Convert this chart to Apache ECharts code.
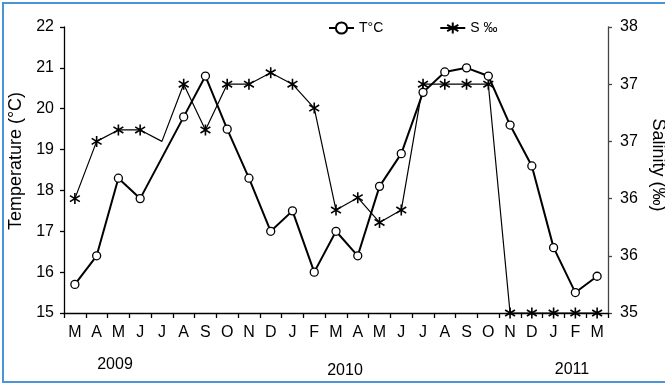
<!DOCTYPE html>
<html>
<head>
<meta charset="utf-8">
<script src="https://cdn.jsdelivr.net/npm/echarts@6/dist/echarts.min.js"></script>
<style>
html,body{margin:0;padding:0;background:#fff;overflow:hidden;}
#chart{position:absolute;left:0;top:0;width:665px;height:383px;}
#frame{position:absolute;left:2px;top:2px;width:700px;height:377px;border:2px solid #4a95d8;pointer-events:none;}
</style>
</head>
<body>
<div id="chart"></div>
<div id="frame"></div>
<script>
const months = ['M','A','M','J','J','A','S','O','N','D','J','F','M','A','M','J','J','A','S','O','N','D','J','F','M'];
const temperature = [15.7,16.4,18.3,17.8,null,19.8,20.8,19.5,18.3,17.0,17.5,16.0,17.0,16.4,18.1,18.9,20.4,20.9,21.0,20.8,19.6,18.6,16.6,15.5,15.9];
const salinity = [36.2,36.8,36.92,36.92,36.8,37.4,36.92,37.4,37.4,37.52,37.4,37.15,36.08,36.21,35.95,36.08,37.4,37.4,37.4,37.4,35,35,35,35,35];
const hiddenSalinityMarker = [4];
const years = [{label:'2009', x:115, y:365},{label:'2010', x:345, y:371},{label:'2011', x:572, y:370}];
const tempTicks = {min:15, max:22, interval:1};
const salTicks = {min:35, max:38, interval:0.6};

const FONT = '"Liberation Sans", Arial, sans-serif';
const starPath = 'path://M0,-10L0,10M-9,-5.5L9,5.5M-9,5.5L9,-5.5';

const chart = echarts.init(document.getElementById('chart'), null, {renderer:'canvas'});
chart.setOption({
  animation:false,
  backgroundColor:'#fff',
  textStyle:{fontFamily:FONT, color:'#000'},
  grid:{left:64, right:57, top:27, bottom:70, containLabel:false, outerBoundsMode:'none'},
  legend:{
    left:323, top:16, itemWidth:25, itemHeight:14, itemGap:56,
    textStyle:{fontFamily:FONT, fontSize:14, color:'#000'},
    data:['T°C','S ‰']
  },
  xAxis:{
    type:'category', data:months, boundaryGap:true,
    axisLine:{lineStyle:{color:'#000', width:1.3}},
    axisTick:{show:true, length:5, inside:false, lineStyle:{color:'#000', width:1.3}},
    axisLabel:{fontFamily:FONT, fontSize:16, color:'#000', margin:12, interval:0}
  },
  yAxis:[{
    type:'value', min:tempTicks.min, max:tempTicks.max, interval:tempTicks.interval,
    name:'Temperature (°C)', nameLocation:'middle', nameGap:37,
    nameTextStyle:{fontFamily:FONT, fontSize:18, color:'#000', padding:[0,0,0,18]},
    axisLine:{show:true, lineStyle:{color:'#000', width:1.3}},
    axisTick:{show:true, length:4, lineStyle:{color:'#000', width:1.3}},
    axisLabel:{fontFamily:FONT, fontSize:16, color:'#000', margin:10},
    splitLine:{show:false}
  },{
    type:'value', min:salTicks.min, max:salTicks.max, interval:salTicks.interval, position:'right',
    name:'Salinity (‰)', nameLocation:'middle', nameGap:40, nameRotate:-90,
    nameTextStyle:{fontFamily:FONT, fontSize:18, color:'#000', padding:[0,10,0,0]},
    axisLine:{show:true, lineStyle:{color:'#444', width:1.3}},
    axisTick:{show:true, length:4, lineStyle:{color:'#444', width:1.3}},
    axisLabel:{fontFamily:FONT, fontSize:16, color:'#000', margin:12, formatter:v=>String(Math.round(v))},
    splitLine:{show:false}
  }],
  series:[{
    name:'T°C', type:'line', yAxisIndex:0, data:temperature, connectNulls:true,
    symbol:'circle', symbolSize:8, showAllSymbol:true,
    lineStyle:{color:'#000', width:2},
    itemStyle:{color:'#fff', borderColor:'#000', borderWidth:1.3},
    z:3
  },{
    name:'S ‰', type:'line', yAxisIndex:1,
    data:salinity.map((v,i)=>hiddenSalinityMarker.includes(i)?{value:v, symbol:'none'}:v),
    symbol:starPath, symbolSize:11, symbolKeepAspect:true, showAllSymbol:true,
    lineStyle:{color:'#000', width:1.2},
    itemStyle:{color:'#000', borderColor:'#000', borderWidth:1.6},
    z:2
  }],
  graphic: years.map(y=>({type:'text', x:y.x, y:y.y, style:{text:y.label, font:'16px '+FONT, fill:'#000', align:'center', verticalAlign:'middle'}}))
});
</script>
</body>
</html>
